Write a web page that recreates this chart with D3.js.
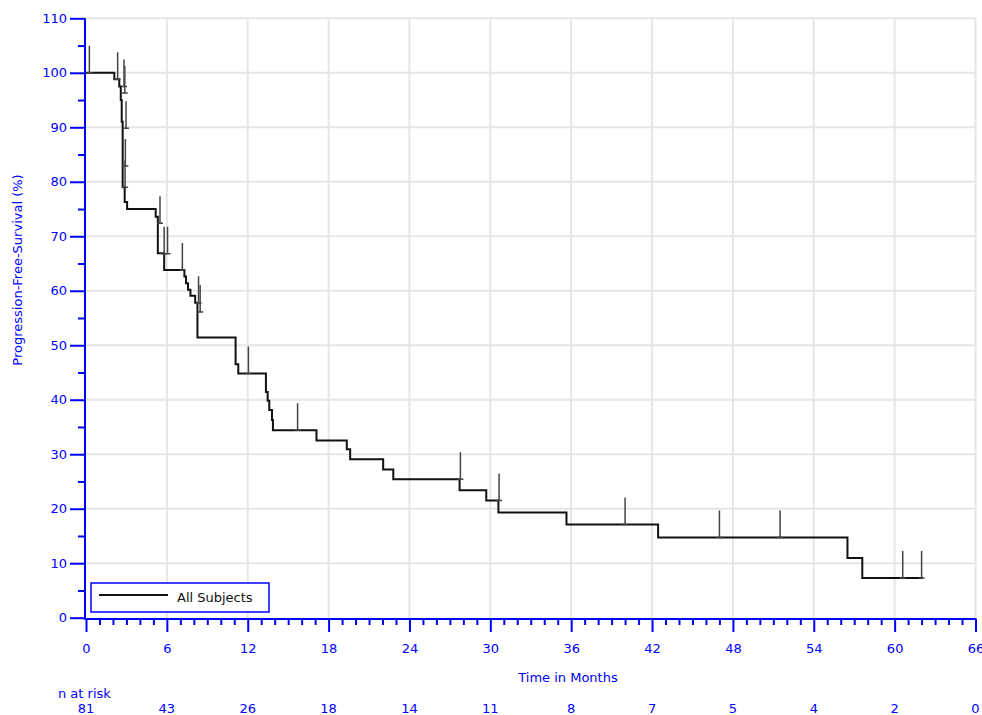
<!DOCTYPE html>
<html>
<head>
<meta charset="utf-8">
<script src="https://cdn.jsdelivr.net/npm/d3@7"></script>
<style>
  html, body { margin: 0; padding: 0; background: #fff; }
  svg { display: block; }
  text { font-family: "DejaVu Sans", sans-serif; }
</style>
</head>
<body>
<svg id="chart" width="982" height="715"></svg>
<script>
// ---- data ----
const xTickValues = [0, 6, 12, 18, 24, 30, 36, 42, 48, 54, 60, 66];
const yTickValues = [0, 10, 20, 30, 40, 50, 60, 70, 80, 90, 100, 110];
const atRiskTimes = [0, 6, 12, 18, 24, 30, 36, 42, 48, 54, 60, 66];
const atRiskCounts = [81, 43, 26, 18, 14, 11, 8, 7, 5, 4, 2, 0];

// Kaplan-Meier steps: at eventTimes[i] the curve drops to survivalAfter[i]
const startSurvival = 100;
const eventTimes = [2.10, 2.47, 2.58, 2.65, 2.72, 2.87, 3.05, 5.17, 5.33, 5.80,
  7.30, 7.42, 7.57, 7.75, 8.10, 8.27, 11.10, 11.30, 13.35, 13.48, 13.60, 13.80,
  13.87, 17.10, 19.35, 19.60, 22.05, 22.80, 27.72, 29.70, 30.60, 35.65, 42.45,
  56.50, 57.60];
const survivalAfter = [98.8, 97.5, 95.0, 91.0, 79.0, 76.3, 75.0, 73.6, 66.9, 63.8,
  62.6, 61.4, 60.2, 59.1, 57.8, 51.4, 46.5, 44.8, 41.4, 39.8, 38.1, 36.3,
  34.4, 32.5, 30.9, 29.1, 27.2, 25.4, 23.4, 21.5, 19.3, 17.1, 14.7,
  10.95, 7.3];
const lastFollowUp = 62.1;

// censored observations
const censorTimes = [0.25, 2.35, 2.82, 2.88, 2.97, 2.92, 2.90, 5.49, 5.80, 6.05,
  7.15, 8.35, 8.47, 12.05, 15.70, 27.78, 30.65, 40.00, 47.00, 51.50, 60.60, 62.00];
const censorValues = [100, 98.8, 97.5, 96.3, 89.8, 82.9, 79.0, 72.4, 66.8, 66.8,
  63.8, 57.7, 56.1, 44.8, 34.4, 25.4, 21.5, 17.1, 14.7, 14.7, 7.3, 7.3];

const legendLabel = "All Subjects";
const xTitle = "Time in Months";
const yTitle = "Progression-Free-Survival (%)";
const atRiskTitle = "n at risk";

// ---- layout ----
const blue = "#0000ff";
const svg = d3.select("#chart");
const x = d3.scaleLinear().domain([0, 66]).range([86, 975.5]);
const y = d3.scaleLinear().domain([0, 110]).range([617.7, 18.3]);
const axisY = 619;   // x-axis line position
const axisX = 85;    // y-axis line position

// grid
const grid = svg.append("g").attr("stroke", "#e6e6e6").attr("stroke-width", 2);
grid.selectAll("line.h").data(yTickValues.filter(d => d > 0)).join("line")
  .attr("x1", axisX).attr("x2", x(66)).attr("y1", d => y(d)).attr("y2", d => y(d));
grid.selectAll("line.v").data(xTickValues.filter(d => d > 0)).join("line")
  .attr("x1", d => x(d)).attr("x2", d => x(d)).attr("y1", y(110)).attr("y2", axisY);

// axes
function styleAxis(g) {
  g.selectAll("path.domain").attr("stroke", blue).attr("stroke-width", 2);
  g.selectAll(".tick line").attr("stroke", blue).attr("stroke-width", 2);
  g.selectAll(".tick text").attr("fill", blue).style("font-size", "13px")
    .style("font-family", "DejaVu Sans, sans-serif");
}
const yMinor = d3.range(5, 110, 10);
const xMinor = d3.range(1, 66).filter(d => d % 6 !== 0);

const gyMinor = svg.append("g").attr("transform", `translate(${axisX},0)`)
  .call(d3.axisLeft(y).tickValues(yMinor).tickSize(7).tickSizeOuter(0).tickFormat(""));
gyMinor.select("path.domain").remove();
styleAxis(gyMinor);
const gxMinor = svg.append("g").attr("transform", `translate(0,${axisY})`)
  .call(d3.axisBottom(x).tickValues(xMinor).tickSize(6).tickSizeOuter(0).tickFormat(""));
gxMinor.select("path.domain").remove();
styleAxis(gxMinor);

const gy = svg.append("g").attr("transform", `translate(${axisX},0)`)
  .call(d3.axisLeft(y).tickValues(yTickValues).tickSize(15).tickSizeOuter(0).tickPadding(3));
gy.select("path.domain").attr("d", `M0,${y(110)}V${axisY + 1}`);
styleAxis(gy);
const gx = svg.append("g").attr("transform", `translate(0,${axisY})`)
  .call(d3.axisBottom(x).tickValues(xTickValues).tickSize(13).tickSizeOuter(0).tickPadding(12));
gx.select("path.domain").attr("d", `M${axisX - 1},0H${x(66) + 1}`);
styleAxis(gx);

// titles
svg.append("text").attr("x", 568).attr("y", 682).attr("text-anchor", "middle")
  .attr("fill", blue).style("font-size", "13px").text(xTitle);
svg.append("text").attr("transform", "translate(22,270) rotate(-90)")
  .attr("text-anchor", "middle").attr("fill", blue).style("font-size", "13px").text(yTitle);

// number at risk
svg.append("text").attr("x", 58).attr("y", 698).attr("fill", blue)
  .style("font-size", "13px").text(atRiskTitle);
svg.append("g").selectAll("text").data(atRiskTimes).join("text")
  .attr("x", d => x(d)).attr("y", 713).attr("text-anchor", "middle")
  .attr("fill", blue).style("font-size", "13px")
  .text((d, i) => atRiskCounts[i]);

// KM curve
const pts = [[0, startSurvival]].concat(eventTimes.map((t, i) => [t, survivalAfter[i]]));
pts.push([lastFollowUp, survivalAfter[survivalAfter.length - 1]]);
const line = d3.line().x(d => x(d[0])).y(d => y(d[1])).curve(d3.curveStepAfter);
svg.append("path").attr("d", line(pts)).attr("fill", "none")
  .attr("stroke", "#111").attr("stroke-width", 2).attr("stroke-linejoin", "miter");

// censor marks
svg.append("g").selectAll("path").data(censorTimes).join("path")
  .attr("d", (d, i) => {
    const cx = x(d), cy = y(censorValues[i]);
    return `M${cx - 3},${cy}H${cx + 3}M${cx},${cy}V${cy - 27}`;
  })
  .attr("fill", "none").attr("stroke", "#444").attr("stroke-width", 1.5);

// legend
const lg = svg.append("g");
lg.append("rect").attr("x", 91).attr("y", 583).attr("width", 178).attr("height", 29)
  .attr("fill", "#fff").attr("stroke", blue).attr("stroke-width", 1.5);
lg.append("line").attr("x1", 99).attr("x2", 168).attr("y1", 595).attr("y2", 595)
  .attr("stroke", "#111").attr("stroke-width", 2);
lg.append("text").attr("x", 177).attr("y", 602).attr("fill", "#111")
  .style("font-size", "13px").text(legendLabel);
</script>
</body>
</html>
